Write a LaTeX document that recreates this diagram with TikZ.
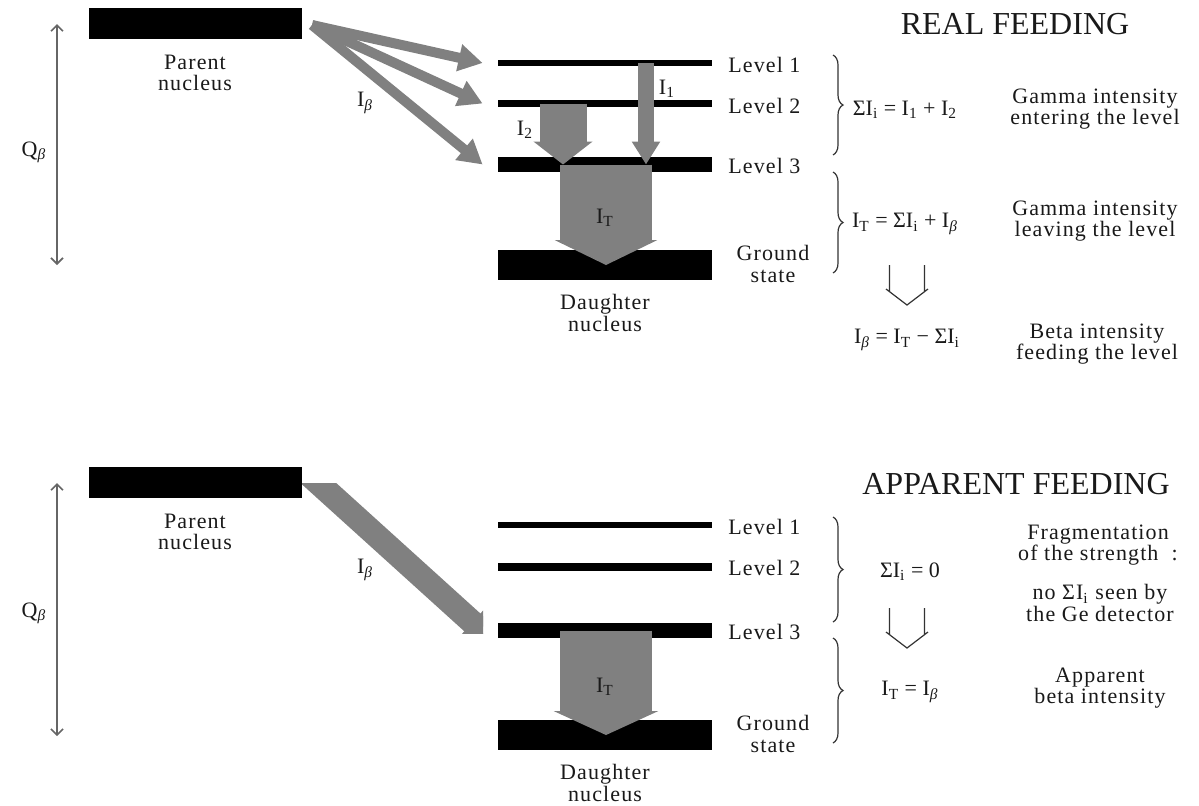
\documentclass[tikz,border=0pt]{standalone}
\usepackage{fontspec}
\setmainfont{Liberation Serif}
\newfontfamily\spaced{Liberation Serif}[LetterSpace=5.0]
\usetikzlibrary{arrows.meta,decorations.pathreplacing,calc}

\newcommand{\Isub}[1]{I\textsubscript{#1}}
\newcommand{\Ib}{I\textsubscript{\textit{β}}}
\newcommand{\hollowdown}[1]{%
  \draw[black!80, line width=0.6pt] ($(#1)+(-17.5,0)$) -- ++(0,26)
    ($(#1)+(17.5,0)$) -- ++(0,26)
    ($(#1)+(-21,24)$) -- ($(#1)+(0,40)$) -- ($(#1)+(21,24)$);}

\tikzset{
  bar/.style={fill=black, inner sep=0pt, minimum width=107pt},
  txt/.style={font=\spaced\fontsize{11}{10.8}\selectfont, align=center, text=black!90, inner sep=0pt},
  lvltxt/.style={txt, anchor=west},
  eqn/.style={font=\fontsize{11}{13}\selectfont, text=black!90, inner sep=0pt},
  title/.style={font=\fontsize{16}{19}\selectfont, text=black!90, inner sep=0pt},
  beta/.style={draw=black!50, line width=5pt, -{Triangle[width=13pt,length=12pt]}},
  gamma/.style={draw=black!50},
  qarrow/.style={black!60, line width=0.8pt, {Straight Barb[length=3pt,width=6pt]}-{Straight Barb[length=3pt,width=6pt]}},
  splitbrace/.style={decorate, decoration={brace, amplitude=5pt}, black!80, line width=0.6pt}
}

\begin{document}
\begin{tikzpicture}[x=0.5pt, y=-0.5pt]
\useasboundingbox (0,0) rectangle (1199,805);

% real feeding
\node[bar, minimum width=106.5pt, minimum height=15.5pt] (par) at (195.5,23.5) {};
\node[txt] (partxt) at (195,73) {Parent\\nucleus};
\node[bar, minimum height=3pt] (lv1) at (605,63) {};
\node[bar, minimum height=3.5pt] (lv2) at (605,103.5) {};
\node[bar, minimum height=7.5pt] (lv3) at (605,164.5) {};
\node[bar, minimum height=15pt] (gnd) at (605,265) {};
\node[lvltxt] (lv1txt) at (728,65) {Level 1};
\node[lvltxt] (lv2txt) at (728,106) {Level 2};
\node[lvltxt] (lv3txt) at (728,166) {Level 3};
\node[txt] (gndtxt) at (773,264) {Ground\\state};
\node[txt] (dautxt) at (605,313) {Daughter\\nucleus};

\coordinate (q1a) at (57,24);
\coordinate (q1b) at (57,265);
\draw[qarrow] (q1a) -- (q1b);
\node[eqn] (q1txt) at (34,152) {Q\textsubscript{\textit{β}}};

\coordinate (src) at (312,25);
\draw[beta] (src) -- ([xshift=-7.5pt]lv1.west);
\draw[beta] (src) -- ([xshift=-7.5pt]lv2.west);
\draw[beta] (src) -- ([xshift=-7.5pt]lv3.west);
\node[eqn] (ibtxt) at (365,103) {\Ib};

\draw[gamma, line width=8pt, -{Triangle[width=13.5pt,length=11.5pt]}] ([xshift=20.5pt]lv1.center) -- ([xshift=20.5pt]lv3.center);
\draw[gamma, line width=23.5pt, -{Triangle[width=29pt,length=11.5pt]}] ([xshift=-21pt]lv2.center) -- ([xshift=-21pt]lv3.center);
\draw[gamma, line width=46pt, -{Triangle[width=51pt,length=12.5pt]}] ([xshift=0.5pt]lv3.center) -- ([xshift=0.5pt]gnd.center);
\node[eqn] (i1txt) at (667,89) {\Isub{1}};
\node[eqn] (i2txt) at (525,130) {\Isub{2}};
\node[eqn] (ittxt) at (605,218) {\Isub{T}};

\node[title] (realtxt) at (1015,24) {REAL FEEDING};
\draw[splitbrace] (833,55) -- (833,155);
\draw[splitbrace] (833,172) -- (833,273);
\node[eqn] (sumeq) at (905,110) {ΣI\textsubscript{i} = \Isub{1} + \Isub{2}};
\node[eqn] (toteq) at (905,224) {\Isub{T} = ΣI\textsubscript{i} + \Ib};
\hollowdown{907,265}
\node[eqn] (betaeq) at (907,340) {\Ib{} = \Isub{T} − ΣI\textsubscript{i}};
\node[txt] (entertxt) at (1095,109) {Gamma intensity\\entering the level};
\node[txt] (leavetxt) at (1095,221) {Gamma intensity\\leaving the level};
\node[txt] (feedtxt) at (1097,344) {Beta intensity\\feeding the level};

% apparent feeding
\node[bar, minimum width=106.5pt, minimum height=15.5pt] (parb) at (195.5,482.5) {};
\node[txt] (partxtb) at (195,532) {Parent\\nucleus};
\node[bar, minimum height=3pt] (lv1b) at (605,525) {};
\node[bar, minimum height=4pt] (lv2b) at (605,567) {};
\node[bar, minimum height=7.5pt] (lv3b) at (605,630.5) {};
\node[bar, minimum height=15pt] (gndb) at (605,735) {};
\node[lvltxt] (lv1txtb) at (728,527) {Level 1};
\node[lvltxt] (lv2txtb) at (728,568) {Level 2};
\node[lvltxt] (lv3txtb) at (728,632) {Level 3};
\node[txt] (gndtxtb) at (773,734) {Ground\\state};
\node[txt] (dautxtb) at (605,783) {Daughter\\nucleus};

\coordinate (q2a) at (57,483);
\coordinate (q2b) at (57,736);
\draw[qarrow] (q2a) -- (q2b);
\node[eqn] (q2txt) at (34,613) {Q\textsubscript{\textit{β}}};

\coordinate (src2) at (308.4,474);
\begin{scope}
  \clip (302,483) rectangle (483,633);
  \draw[beta, line width=12pt, -{Triangle[width=20pt,length=15pt]}] (src2) -- ([shift={(-1.5pt,-6pt)}]lv3b.west);
\end{scope}
\node[eqn] (ibtxtb) at (365,570) {\Ib};

\draw[gamma, line width=46pt, -{Triangle[width=52pt,length=12pt]}] ([xshift=0.5pt]lv3b.center) -- ([xshift=0.5pt]gndb.center);
\node[eqn] (ittxtb) at (605,687) {\Isub{T}};

\node[title] (apptxt) at (1016,484) {APPARENT FEEDING};
\draw[splitbrace] (833,517) -- (833,622);
\draw[splitbrace] (833,638) -- (833,743);
\node[eqn] (sumeqb) at (910,572) {ΣI\textsubscript{i} = 0};
\hollowdown{907,608}
\node[eqn] (toteqb) at (910,692) {\Isub{T} = \Ib};
\node[txt] (fragtxt) at (1098,545) {Fragmentation\\of the strength\ \ :};
\node[txt] (getxt) at (1100,603) {no ΣI\textsubscript{i} seen by\\the Ge detector};
\node[txt] (apptxtb) at (1100,688) {Apparent\\beta intensity};
\end{tikzpicture}
\end{document}
